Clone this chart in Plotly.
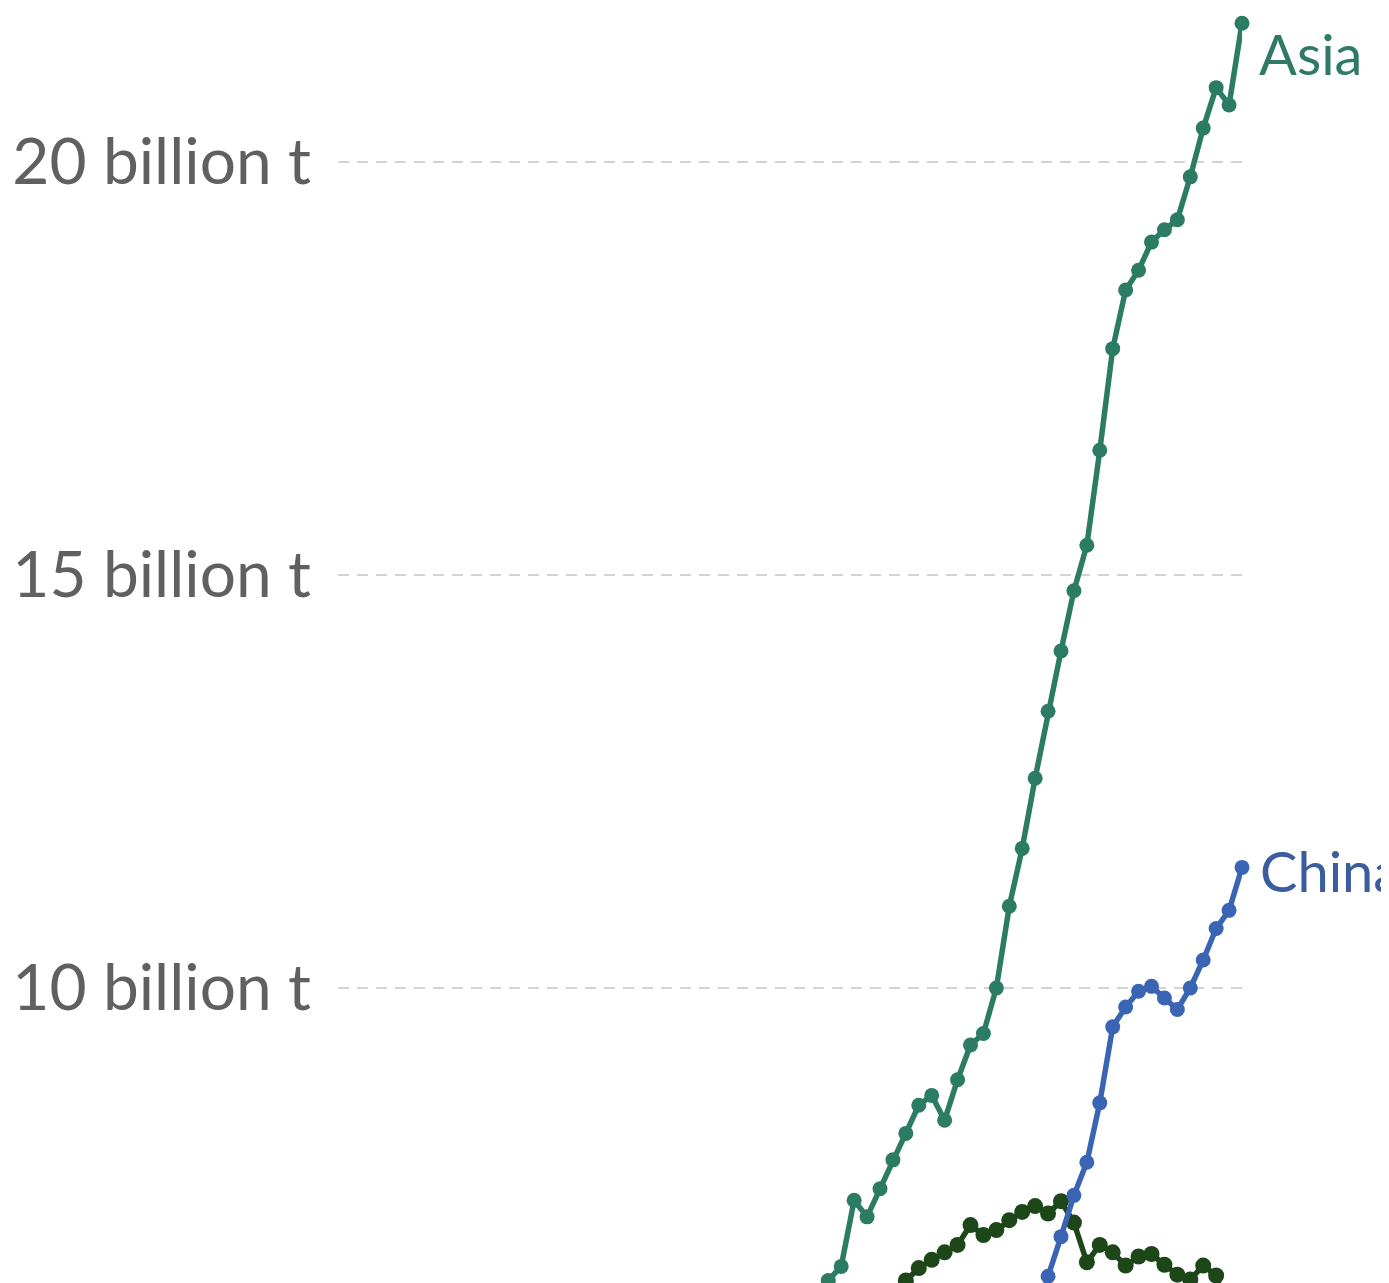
import plotly.graph_objects as go

# ---- data ----
asia_years = list(range(1988, 2022))
asia_values = [6.20, 6.46, 6.63, 7.43, 7.23, 7.57, 7.92, 8.24, 8.58, 8.70, 8.40, 8.89, 9.31, 9.45,
               10.00, 10.99, 11.69, 12.54, 13.35, 14.08, 14.81, 15.36, 16.51, 17.74, 18.45, 18.69,
               19.03, 19.18, 19.30, 19.82, 20.41, 20.90, 20.69, 21.68]

china_years = list(range(2005, 2022))
china_values = [5.90, 6.51, 6.99, 7.49, 7.89, 8.61, 9.53, 9.77, 9.96, 10.02, 9.88, 9.74, 10.00,
                10.34, 10.72, 10.94, 11.46]

na_years = list(range(1994, 2022))
na_values = [6.30, 6.46, 6.61, 6.71, 6.80, 6.89, 7.13, 7.01, 7.07, 7.19, 7.29, 7.36, 7.27, 7.42,
             7.16, 6.68, 6.89, 6.80, 6.64, 6.75, 6.78, 6.65, 6.53, 6.47, 6.64, 6.52, 6.00, 6.35]

tick_vals = [10, 15, 20]
tick_text = ["10 billion t", "15 billion t", "20 billion t"]

ASIA_C = "#2b7c62"
CHINA_C = "#3a64b4"
NA_C = "#1d4718"

fig = go.Figure()
fig.add_trace(go.Scatter(x=na_years, y=na_values, mode="lines+markers", name="North America",
                         line=dict(color=NA_C, width=5.5), marker=dict(size=16, color=NA_C),
                         cliponaxis=True))
fig.add_trace(go.Scatter(x=china_years, y=china_values, mode="lines+markers", name="China",
                         line=dict(color=CHINA_C, width=5.5), marker=dict(size=15, color=CHINA_C),
                         cliponaxis=False))
fig.add_trace(go.Scatter(x=asia_years, y=asia_values, mode="lines+markers", name="Asia",
                         line=dict(color=ASIA_C, width=5.5), marker=dict(size=15, color=ASIA_C),
                         cliponaxis=False))

fig.add_annotation(x=asia_years[-1], y=asia_values[-1], text="Asia", showarrow=False,
                   xanchor="left", yanchor="middle", xshift=15, yshift=-30,
                   font=dict(family="Lato", size=56, color="#2f7a64"))
fig.add_annotation(x=china_years[-1], y=china_values[-1], text="China", showarrow=False,
                   xanchor="left", yanchor="middle", xshift=16, yshift=-3,
                   font=dict(family="Lato", size=56, color="#3b5d9e"))

fig.update_layout(
    width=1381, height=1275,
    margin=dict(l=330, r=147, t=0, b=0, pad=0),
    paper_bgcolor="white", plot_bgcolor="white",
    showlegend=False,
    font=dict(family="Lato", color="#5b5b5b"),
    xaxis=dict(range=[1951.08, 2021], showticklabels=False, showgrid=False,
               zeroline=False, showline=False),
    yaxis=dict(range=[6.429, 21.864], tickvals=tick_vals, ticktext=tick_text,
               showgrid=True, gridcolor="#d3d3d3", gridwidth=2, griddash="11px,8px",
               zeroline=False, showline=False, ticks="",
               ticklabelstandoff=26,
               tickfont=dict(family="Lato", size=64, color="#606060")),
)

fig.write_html("out.html")
